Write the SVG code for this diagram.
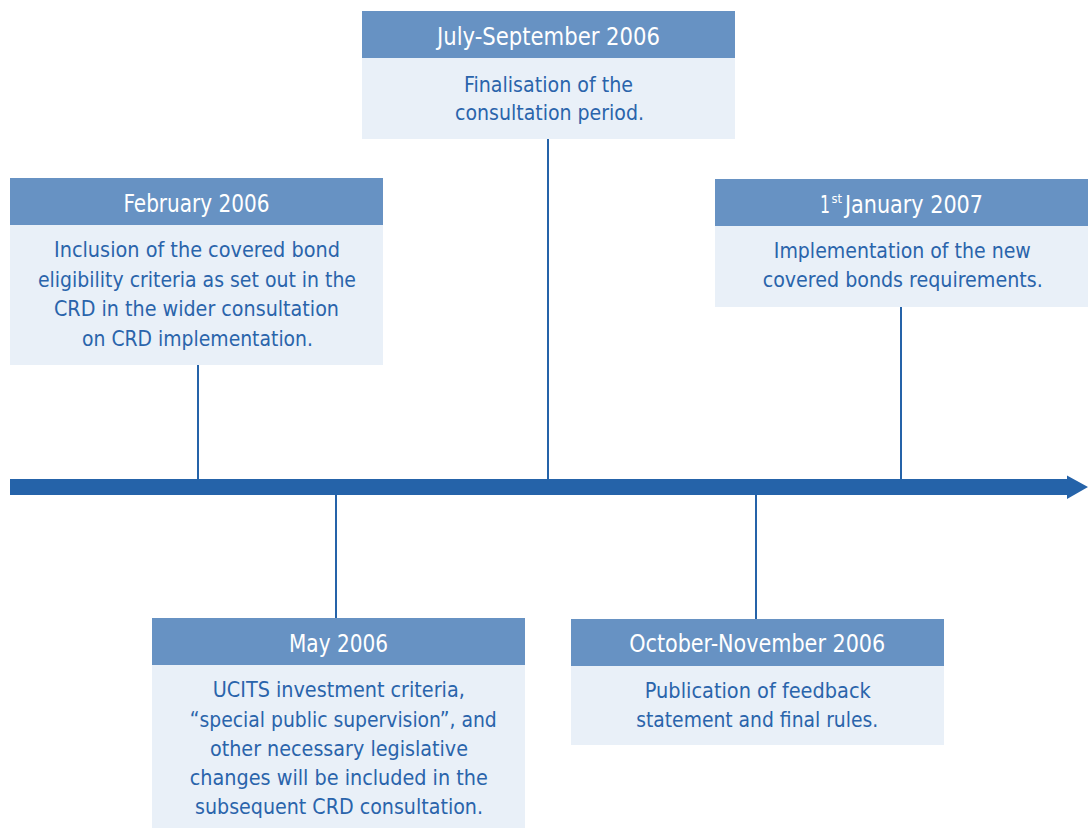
<svg xmlns="http://www.w3.org/2000/svg" width="1092" height="828" viewBox="0 0 1092 828">
<style>
.hdr{fill:#6792c3}
.body{fill:#e9f0f8}
.ht{font-family:"Liberation Sans Narrow","DejaVu Sans Condensed","Liberation Sans",sans-serif;font-size:24px;fill:#ffffff;text-anchor:middle}
.bt{font-family:"Liberation Sans Narrow","DejaVu Sans Condensed","Liberation Sans",sans-serif;font-size:21.5px;fill:#2a64ab;text-anchor:middle}
.conn{stroke:#2563a9;stroke-width:2;fill:none}
</style>
<rect width="1092" height="828" fill="#ffffff"/>
<g id="connectors">
<line class="conn" x1="198" y1="365" x2="198" y2="481"/>
<line class="conn" x1="548" y1="139" x2="548" y2="481"/>
<line class="conn" x1="901" y1="307" x2="901" y2="481"/>
<line class="conn" x1="336" y1="494" x2="336" y2="618"/>
<line class="conn" x1="756" y1="494" x2="756" y2="619"/>
</g>
<g id="timeline">
<polygon points="10,479 1067,479 1067,475.5 1088,487 1067,499 1067,495 10,495" fill="#2563a9"/>
</g>
<g id="feb2006">
<rect class="hdr" x="10" y="178" width="373" height="47"/>
<rect class="body" x="10" y="225" width="373" height="140"/>
<text class="ht" x="196.5" y="211.7" textLength="146" lengthAdjust="spacingAndGlyphs">February 2006</text>
<text class="bt" x="197" y="257" textLength="286" lengthAdjust="spacingAndGlyphs">Inclusion of the covered bond</text>
<text class="bt" x="197" y="286.5" textLength="318" lengthAdjust="spacingAndGlyphs">eligibility criteria as set out in the</text>
<text class="bt" x="196.5" y="316" textLength="285" lengthAdjust="spacingAndGlyphs">CRD in the wider consultation</text>
<text class="bt" x="197.5" y="345.5" textLength="231" lengthAdjust="spacingAndGlyphs">on CRD implementation.</text>
</g>
<g id="julsep2006">
<rect class="hdr" x="362" y="11" width="373" height="47"/>
<rect class="body" x="362" y="58" width="373" height="81"/>
<text class="ht" x="548.5" y="45" textLength="223" lengthAdjust="spacingAndGlyphs">July-September 2006</text>
<text class="bt" x="548.5" y="91.5" textLength="169" lengthAdjust="spacingAndGlyphs">Finalisation of the</text>
<text class="bt" x="549.5" y="120" textLength="189" lengthAdjust="spacingAndGlyphs">consultation period.</text>
</g>
<g id="jan2007">
<rect class="hdr" x="715" y="179" width="373" height="47"/>
<rect class="body" x="715" y="226" width="373" height="81"/>
<text class="ht" x="820" y="213.3" style="text-anchor:start"><tspan x="820" y="213.3" textLength="10" lengthAdjust="spacingAndGlyphs">1</tspan><tspan x="831.5" y="202.5" style="font-size:12px" textLength="10.5" lengthAdjust="spacingAndGlyphs">st</tspan><tspan x="845" y="213.3" textLength="138" lengthAdjust="spacingAndGlyphs">January 2007</tspan></text>
<text class="bt" x="902.3" y="258.3" textLength="257" lengthAdjust="spacingAndGlyphs">Implementation of the new</text>
<text class="bt" x="902.7" y="287.3" textLength="280" lengthAdjust="spacingAndGlyphs">covered bonds requirements.</text>
</g>
<g id="may2006">
<rect class="hdr" x="152" y="618" width="373" height="47"/>
<rect class="body" x="152" y="665" width="373" height="163"/>
<text class="ht" x="338.5" y="651.7" textLength="99" lengthAdjust="spacingAndGlyphs">May 2006</text>
<text class="bt" x="338.8" y="697.3" textLength="252" lengthAdjust="spacingAndGlyphs">UCITS investment criteria,</text>
<text class="bt" x="343.3" y="726.7" textLength="307" lengthAdjust="spacingAndGlyphs">“special public supervision”, and</text>
<text class="bt" x="339" y="755.7" textLength="258" lengthAdjust="spacingAndGlyphs">other necessary legislative</text>
<text class="bt" x="338.8" y="785" textLength="298" lengthAdjust="spacingAndGlyphs">changes will be included in the</text>
<text class="bt" x="339" y="814" textLength="288" lengthAdjust="spacingAndGlyphs">subsequent CRD consultation.</text>
</g>
<g id="octnov2006">
<rect class="hdr" x="571" y="619" width="373" height="47"/>
<rect class="body" x="571" y="666" width="373" height="79"/>
<text class="ht" x="757.2" y="652.3" textLength="256" lengthAdjust="spacingAndGlyphs">October-November 2006</text>
<text class="bt" x="757.8" y="698.3" textLength="226" lengthAdjust="spacingAndGlyphs">Publication of feedback</text>
<text class="bt" x="757.2" y="727.3" textLength="242" lengthAdjust="spacingAndGlyphs">statement and final rules.</text>
</g>
</svg>
